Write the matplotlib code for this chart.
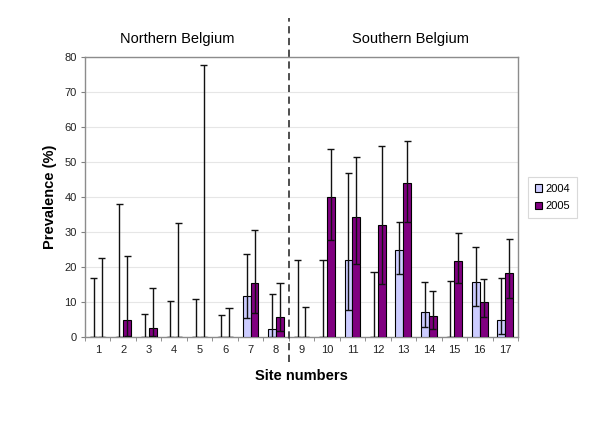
import numpy as np
import matplotlib.pyplot as plt
import matplotlib.transforms as mtransforms

plt.rcParams['font.family'] = ['Liberation Sans', 'DejaVu Sans']

sites = [str(i) for i in range(1, 18)]

prev_2004 = [0, 0, 0, 0, 0, 0, 11.8, 2.4,
             0, 0, 22.1, 0, 24.9, 7.2, 0, 15.6, 4.8]
low_2004 = [0, 0, 0, 0, 0, 0, 5.4, 0,
            0, 0, 7.7, 0, 18.0, 3.0, 0, 8.9, 0.8]
up_2004 = [16.8, 37.9, 6.7, 10.2, 10.8, 6.2, 23.8, 12.4,
           22.1, 22.1, 47.0, 18.6, 32.8, 15.6, 16.0, 25.6, 17.0]

prev_2005 = [0, 4.8, 2.7, 0, 0, 0, 15.3, 5.6,
             0, 40.0, 34.3, 31.9, 44.0, 5.9, 21.6, 9.9, 18.3]
low_2005 = [0, 0.4, 0.2, 0, 0, 0, 7.0, 1.6,
            0, 27.8, 20.8, 15.1, 33.0, 2.3, 15.3, 5.6, 11.1]
up_2005 = [22.5, 23.2, 14.0, 32.5, 77.7, 8.3, 30.5, 15.3,
           8.6, 53.8, 51.4, 54.7, 56.0, 13.2, 29.7, 16.5, 27.9]

regions = ['Northern Belgium', 'Southern Belgium']


def make_plot():
    fig = plt.figure(figsize=(6.0, 4.24), dpi=100)
    ax = fig.add_axes([85 / 600, 1 - 337 / 424, 433 / 600, 280 / 424])

    x = np.arange(len(sites))
    w = 0.31
    cap = 0.14
    series = [
        (prev_2004, low_2004, up_2004, '#CCCCFF', '2004', -w / 2),
        (prev_2005, low_2005, up_2005, '#800080', '2005', w / 2),
    ]
    for vals, lo, hi, col, lab, off in series:
        pos = x + off
        ax.bar(pos, vals, width=w, color=col, edgecolor='black',
               linewidth=0.8, label=lab, zorder=3)
        ax.vlines(pos, lo, hi, color='#111111', linewidth=1.0, zorder=4)
        ax.hlines(hi, pos - cap, pos + cap, color='#111111',
                  linewidth=1.0, zorder=4)
        ax.hlines(lo, pos - cap, pos + cap, color='#111111',
                  linewidth=1.0, zorder=4)

    ax.set_xlim(-0.5, len(sites) - 0.5)
    ax.set_ylim(0, 80)
    ax.set_yticks(np.arange(0, 81, 10))
    ax.set_xticks(x)
    ax.set_xticklabels(sites)
    ax.set_xticks(np.arange(-0.5, len(sites), 1.0), minor=True)
    ax.tick_params(axis='x', which='major', length=0, labelsize=8,
                   pad=6, colors='#222222')
    ax.tick_params(axis='x', which='minor', length=3, color='#808080',
                   direction='out')
    ax.tick_params(axis='y', length=3, color='#808080', labelsize=8,
                   labelcolor='#222222', pad=3)
    ax.grid(axis='y', color='#E6E6E6', linewidth=0.8, zorder=0)
    ax.set_axisbelow(True)
    for s in ax.spines.values():
        s.set_color('#8C8C8C')
        s.set_linewidth(1.0)

    ax.set_ylabel('Prevalence (%)', fontsize=10.5, fontweight='bold',
                  labelpad=5)
    ax.set_xlabel('Site numbers', fontsize=10.5, fontweight='bold',
                  labelpad=10)

    # divider between the two regions
    trans = mtransforms.blended_transform_factory(ax.transData, ax.transAxes)
    ax.plot([7.5, 7.5], [-0.09, 1.14], transform=trans, clip_on=False,
            color='#404040', linewidth=1.3, linestyle=(0, (4, 2.5)), zorder=5)

    fig.text(177 / 600, 1 - 39 / 424, regions[0], ha='center', va='center',
             fontsize=10.5)
    fig.text(410 / 600, 1 - 39 / 424, regions[1], ha='center', va='center',
             fontsize=10.5)

    leg = fig.legend(loc='upper left', bbox_to_anchor=(528 / 600, 1 - 177 / 424),
                     fontsize=8, frameon=True, fancybox=False,
                     handlelength=0.7, handleheight=0.7, handletextpad=0.3,
                     borderpad=0.6, labelspacing=0.7, borderaxespad=0)
    leg.get_frame().set_edgecolor('#D0D0D0')
    leg.get_frame().set_linewidth(0.8)

    fig.savefig('out.png', dpi=100)


if __name__ == "__main__":
    make_plot()
